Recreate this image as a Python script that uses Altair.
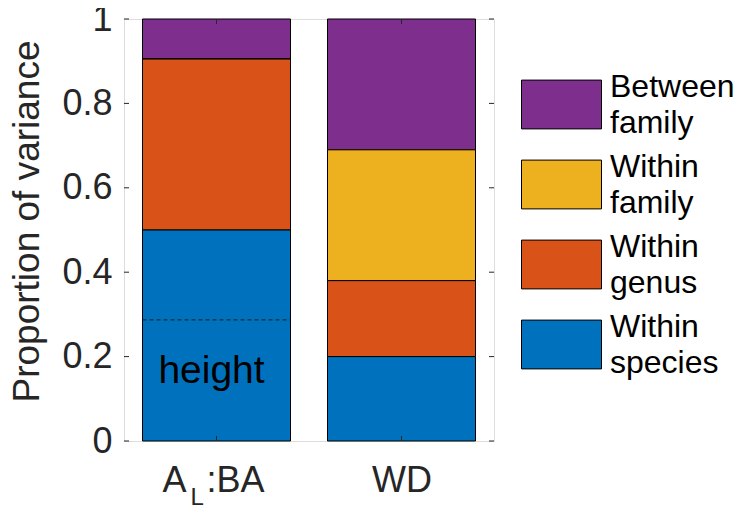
import altair as alt
import pandas as pd

# ---- data ----
categories = ["A_L:BA", "WD"]
positions = [1, 2]
components = ["Between family", "Within family", "Within genus", "Within species"]
colors = ["#7E2F8E", "#EDB120", "#D95319", "#0072BD"]
stack_rank = [4, 3, 2, 1]  # stacking order from bottom (1) to top (4)
between_family = [0.095, 0.31]
within_family = [0.0, 0.31]
within_genus = [0.405, 0.18]
within_species = [0.50, 0.20]
height_ref_value = [0.287]      # dashed reference line in first bar
height_label = ["height"]
height_label_y = [0.137]
y_ticks = [0, 0.2, 0.4, 0.6, 0.8, 1]

series = [between_family, within_family, within_genus, within_species]
rows = []
for comp, rank, vals in zip(components, stack_rank, series):
    for cat, pos, v in zip(categories, positions, vals):
        rows.append({"cat": cat, "pos": pos, "component": comp, "rank": rank, "value": v})
df = pd.DataFrame(rows)

ref_df = pd.DataFrame({"pos": [positions[0]], "v": height_ref_value,
                       "label": height_label, "ly": height_label_y})
ticks_df = pd.DataFrame({"t": y_ticks})
pos_df = pd.DataFrame({"pos": positions, "cat": categories})
sub_df = pos_df[pos_df["cat"].str.contains("_")].copy()
sub_df["main"] = sub_df["cat"].str.split("_").str[0]
sub_df["sub"] = sub_df["cat"].str.split("_").str[1].str[0]
sub_df["rest"] = sub_df["cat"].str.split("_").str[1].str[1:]

W, H = 370, 422
FONT = "Liberation Sans"
TXT = "#262626"
FS = 36
LEG_FS = 32
LEG_LH = 36
LABEL_DY = -LEG_LH / 2   # centres the two-line legend labels on their symbols

xs = alt.Scale(domain=[0.5, 2.5], nice=False, zero=False)
ys = alt.Scale(domain=[0, 1], nice=False, zero=False)
label_expr = " : ".join(
    f"datum.value == {p} ? '{c}'" for p, c in zip(positions, categories) if "_" not in c
) + " : ''"
xaxis = alt.Axis(values=positions, labelExpr=label_expr, grid=False, ticks=False,
                 domain=False, title=None, labelFont=FONT, labelFontSize=FS,
                 labelColor=TXT, labelPadding=22 - LABEL_DY, labelBaseline="top")
yaxis = alt.Axis(values=y_ticks, format="~g", grid=False, ticks=False, domain=False,
                 title="Proportion of variance", labelFont=FONT, labelFontSize=FS,
                 labelColor=TXT, labelPadding=12, labelOffset=-LABEL_DY,
                 titleFont=FONT, titleFontSize=37, titleY=202,
                 titleFontWeight="normal", titleColor=TXT, titlePadding=15)

bars = alt.Chart(df).transform_stack(
    stack="value", groupby=["pos"], as_=["y0", "y1"],
    sort=[alt.SortField(field="rank", order="ascending")]
).transform_calculate(
    x0="datum.pos - 0.4", x1="datum.pos + 0.4"
).mark_rect(stroke="black", strokeWidth=1).encode(
    x=alt.X("x0:Q", scale=xs, axis=xaxis),
    x2="x1:Q",
    y=alt.Y("y0:Q", scale=ys, axis=yaxis),
    y2="y1:Q",
    fill=alt.Fill("component:N", scale=alt.Scale(domain=components, range=colors),
                  legend=alt.Legend(orient="none", legendX=397, legendY=45, title=None,
                                    symbolType="M-1,-0.61H1V0.61H-1Z", symbolSize=6400,
                                    symbolStrokeColor="black", symbolStrokeWidth=1,
                                    symbolOpacity=1, labelFont=FONT, labelFontSize=LEG_FS,
                                    labelColor="black", labelExpr="split(datum.label, ' ')",
                                    labelOffset=8, rowPadding=5, labelLimit=0, padding=0)),
)

ref_line = alt.Chart(ref_df).transform_calculate(
    x0="datum.pos - 0.4", x1="datum.pos + 0.4"
).mark_rule(color="#1a1a1a", strokeWidth=1, strokeDash=[4, 3]).encode(
    x=alt.X("x0:Q", scale=xs, axis=xaxis), x2="x1:Q",
    y=alt.Y("v:Q", scale=ys, axis=yaxis),
)
ref_text = alt.Chart(ref_df).mark_text(font=FONT, fontSize=39, color="black", dx=-5,
                                       baseline="alphabetic").encode(
    x=alt.X("pos:Q", scale=xs, axis=xaxis), y=alt.Y("ly:Q", scale=ys, axis=yaxis), text="label:N"
)

TL = 5
ytick_l = alt.Chart(ticks_df).mark_rule(color=TXT, strokeWidth=1).encode(
    y=alt.Y("t:Q", scale=ys, axis=yaxis), x=alt.value(0), x2=alt.value(TL))
ytick_r = alt.Chart(ticks_df).mark_rule(color=TXT, strokeWidth=1).encode(
    y=alt.Y("t:Q", scale=ys, axis=yaxis), x=alt.value(W - TL), x2=alt.value(W))
xtick_b = alt.Chart(pos_df).mark_rule(color=TXT, strokeWidth=1).encode(
    x=alt.X("pos:Q", scale=xs, axis=xaxis), y=alt.value(H - TL), y2=alt.value(H))
xtick_t = alt.Chart(pos_df).mark_rule(color=TXT, strokeWidth=1).encode(
    x=alt.X("pos:Q", scale=xs, axis=xaxis), y=alt.value(0), y2=alt.value(TL))

lab_main = alt.Chart(sub_df).mark_text(font=FONT, fontSize=FS, color=TXT, align="right",
                                       baseline="alphabetic", dx=-30).encode(
    x=alt.X("pos:Q", scale=xs, axis=xaxis), y=alt.value(H + 51), text="main:N")
lab_sub = alt.Chart(sub_df).mark_text(font=FONT, fontSize=24, color=TXT, align="left",
                                      baseline="alphabetic", dx=-26).encode(
    x=alt.X("pos:Q", scale=xs, axis=xaxis), y=alt.value(H + 64), text="sub:N")
lab_rest = alt.Chart(sub_df).mark_text(font=FONT, fontSize=FS, color=TXT, align="left",
                                       baseline="alphabetic", dx=-10).encode(
    x=alt.X("pos:Q", scale=xs, axis=xaxis), y=alt.value(H + 51), text="rest:N")

chart = alt.layer(bars, ref_line, ref_text, ytick_l, ytick_r, xtick_b, xtick_t,
                  lab_main, lab_sub, lab_rest).properties(
    width=W, height=H,
    autosize=alt.AutoSizeParams(type="none"),
    padding={"left": 116, "top": 11, "right": 246, "bottom": 65},
).configure_view(stroke="#555555", strokeWidth=1).configure(
    style={"guide-label": {"lineHeight": LEG_LH, "dy": LABEL_DY}}
)

chart.save("out.html", embed_options={"renderer": "svg", "actions": False})
